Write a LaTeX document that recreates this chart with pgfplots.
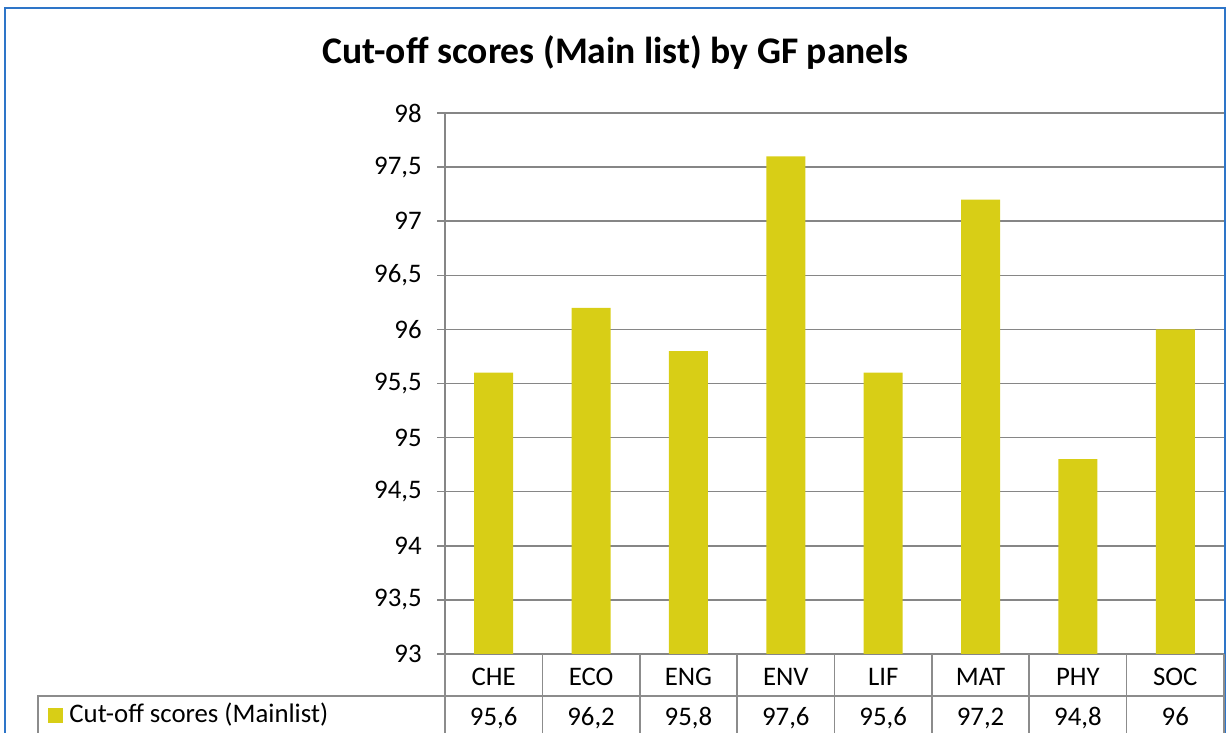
\documentclass[border=0pt]{standalone}
\usepackage{fontspec}
\setmainfont{Carlito}
\usepackage{pgfplots}
\pgfplotsset{compat=1.18}
\definecolor{barc}{RGB}{216,206,22}
\definecolor{gridc}{RGB}{134,134,134}
\definecolor{tblc}{RGB}{140,140,140}
\definecolor{bord}{RGB}{46,117,200}
\pgfplotstableread{
x cat val
0 CHE 95.6
1 ECO 96.2
2 ENG 95.8
3 ENV 97.6
4 LIF 95.6
5 MAT 97.2
6 PHY 94.8
7 SOC 96
}\datatab
\begin{document}
\begin{tikzpicture}
\useasboundingbox (0,0) rectangle (613pt,366.5pt);
\draw[bord, line width=1pt] (2.5pt,-5pt) -- (2.5pt,362.5pt) -- (612.5pt,362.5pt) -- (612.5pt,-5pt);
\node[font=\fontsize{18.8}{22}\selectfont\bfseries, anchor=base, inner sep=0pt] at (307.75pt,334.5pt) {Cut-off scores (Main list) by GF panels};
\begin{axis}[
  at={(222.5pt,39.5pt)}, anchor=south west,
  scale only axis, width=389.5pt, height=270.5pt,
  xmin=-0.5, xmax=7.5, ymin=93, ymax=98,
  enlarge x limits=false,
  axis x line*=bottom, axis y line*=left,
  axis line style={draw=gridc, line width=0.75pt, -},
  ytick={93,93.5,94,94.5,95,95.5,96,96.5,97,97.5,98},
  ymajorgrids, grid style={draw=gridc, line width=0.75pt},
  ytick align=outside, major tick length=4pt,
  ytick style={draw=gridc, line width=0.75pt},
  yticklabel style={font=\fontsize{13.4}{16}\selectfont, anchor=east, inner sep=0pt, xshift=-7.5pt,
     /pgf/number format/.cd, use comma, fixed, precision=1},
  /pgf/number format/assume math mode=true,
  xtick={0,1,2,3,4,5,6,7},
  xticklabels={{CHE\\95,6}, {ECO\\96,2}, {ENG\\95,8}, {ENV\\97,6}, {LIF\\95,6}, {MAT\\97,2}, {PHY\\94,8}, {SOC\\96}},
  xtick style={draw=none},
  xticklabel style={font=\fontsize{13.4}{20}\selectfont, align=center, anchor=north, inner sep=0pt, yshift=-7pt},
  clip mode=individual,
]
\addplot[ybar, bar width=19.5pt, fill=barc, draw=none, bar shift=0pt] table[x=x, y=val] {\datatab};
\pgfplotsinvokeforeach{-0.5,0.5,1.5,2.5,3.5,4.5,5.5,6.5,7.5}{
  \draw[tblc, line width=0.75pt] (axis cs:#1,93) -- ++(0pt,-45pt);
}
\end{axis}
\draw[tblc, line width=0.75pt] (19pt,-5pt) -- (19pt,18.5pt) -- (612pt,18.5pt);
\fill[barc] (24pt,5pt) rectangle (31.5pt,12.5pt);
\node[font=\fontsize{13.4}{16}\selectfont, anchor=base west, inner sep=0pt] at (34.5pt,5pt) {Cut-off scores (Mainlist)};
\end{tikzpicture}
\end{document}
